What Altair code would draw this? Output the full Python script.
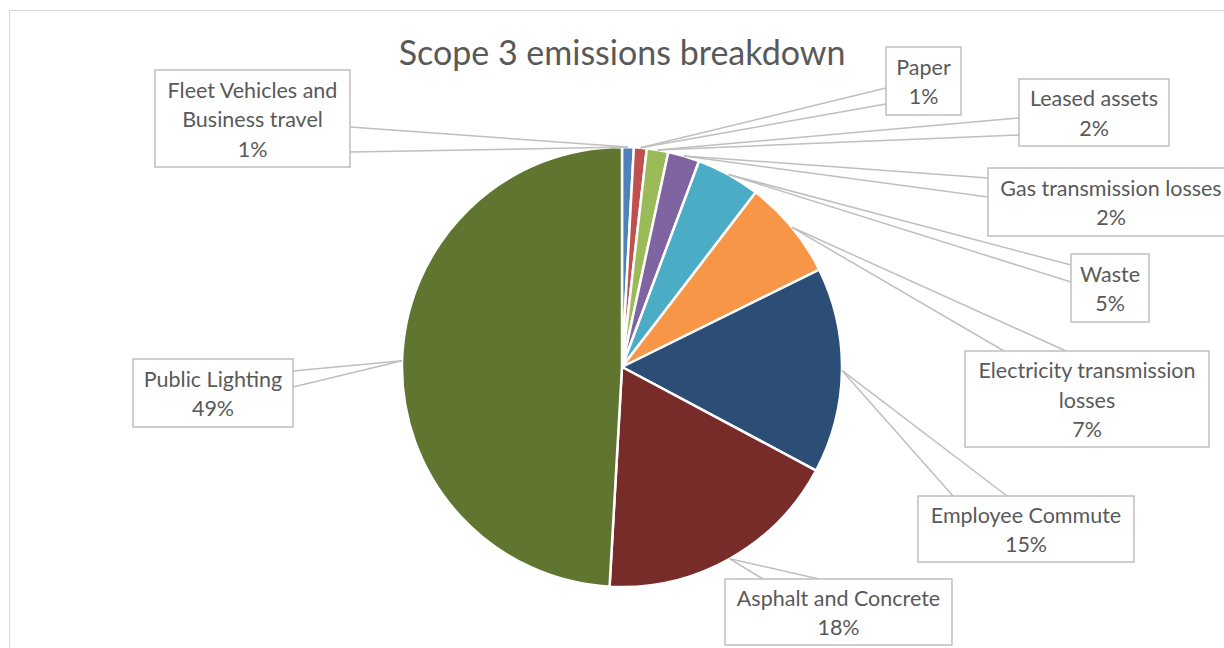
import altair as alt
import pandas as pd

# ---- data ----
categories = [
    "Fleet Vehicles and Business travel",
    "Paper",
    "Leased assets",
    "Gas transmission losses",
    "Waste",
    "Electricity transmission losses",
    "Employee Commute",
    "Asphalt and Concrete",
    "Public Lighting",
]
label_lines = [
    "Fleet Vehicles and\nBusiness travel",
    "Paper",
    "Leased assets",
    "Gas transmission losses",
    "Waste",
    "Electricity transmission\nlosses",
    "Employee Commute",
    "Asphalt and Concrete",
    "Public Lighting",
]
shares = [0.86, 0.94, 1.58, 2.32, 4.70, 7.30, 15.10, 18.10, 49.10]
title_text = "Scope 3 emissions breakdown"

# ---- styles ----
colors = ["#4F81BD", "#C0504D", "#9BBB59", "#8064A2", "#4BACC6",
          "#F79646", "#2C4D75", "#772C2A", "#5F7530"]
TEXT_COLOR = "#595959"
LINE_COLOR = "#BFBFBF"
FONT = "Lato"
LABEL_SIZE = 21.5
LINE_H = 29.5
TEXT_SHIFT = 2.5

# ---- layout (pixels) ----
CX, CY, R = 622, 367, 220
box_x1 = [155, 886, 1019, 988, 1071, 965, 918, 725, 133]
box_x2 = [350, 961, 1169, 1234, 1149, 1209, 1134, 952, 293]
box_y1 = [70, 47, 79, 168, 254, 351, 496, 579, 359]
box_y2 = [167, 115, 146, 236, 322, 447, 562, 645, 427]
call1_x = [350, 886, 1019, 988, 1071, 1004, 953, 763, 293]
call1_y = [127, 88, 118, 178, 265, 351, 496, 579, 371]
call2_x = [350, 886, 1019, 988, 1071, 1066, 1007, 819, 293]
call2_y = [152, 104, 135, 197, 282, 351, 496, 579, 387]

df = pd.DataFrame({
    "idx": list(range(len(categories))),
    "name": categories,
    "label": label_lines,
    "value": shares,
    "bx1": box_x1, "bx2": box_x2, "by1": box_y1, "by2": box_y2,
    "p1x": call1_x, "p1y": call1_y, "p2x": call2_x, "p2y": call2_y,
})

base = alt.Chart(df).transform_joinaggregate(
    total="sum(value)"
).transform_window(
    cum="sum(value)", sort=[alt.SortField("idx")], frame=[None, 0]
).transform_calculate(
    mid="(datum.cum - datum.value / 2) / datum.total * 2 * PI",
    ax=f"{CX} + {R} * sin(datum.mid)",
    ay=f"{CY} - {R} * cos(datum.mid)",
    pct="format(datum.value / datum.total * 100, '.0f') + '%'",
    txt="datum.label + '\\n' + datum.pct",
    tx="(datum.bx1 + datum.bx2) / 2",
).transform_calculate(
    ty=f"(datum.by1 + datum.by2) / 2 - (length(split(datum.txt, '\\n')) - 1) * {LINE_H} / 2 + {TEXT_SHIFT}",
)

frame = alt.Chart(pd.DataFrame({"a": [0]})).mark_rect(
    fillOpacity=0, stroke="#D9D9D9", strokeWidth=1
).encode(x=alt.value(9.5), x2=alt.value(1240), y=alt.value(10.5), y2=alt.value(660))

pie = alt.Chart(df).mark_arc(outerRadius=R, stroke="white", strokeWidth=2.5).encode(
    theta=alt.Theta("value:Q", stack=True),
    order=alt.Order("idx:Q"),
    color=alt.Color("name:N", scale=alt.Scale(domain=categories, range=colors), legend=None),
    x=alt.value(CX),
    y=alt.value(CY),
)

line1 = base.mark_rule(color=LINE_COLOR, strokeWidth=1.5).encode(
    x=alt.X("ax:Q", scale=None), y=alt.Y("ay:Q", scale=None), x2="p1x:Q", y2="p1y:Q"
)
line2 = base.mark_rule(color=LINE_COLOR, strokeWidth=1.5).encode(
    x=alt.X("ax:Q", scale=None), y=alt.Y("ay:Q", scale=None), x2="p2x:Q", y2="p2y:Q"
)

boxes = alt.Chart(df).mark_rect(fill="white", stroke=LINE_COLOR, strokeWidth=1.5).encode(
    x=alt.X("bx1:Q", scale=None), x2="bx2:Q", y=alt.Y("by1:Q", scale=None), y2="by2:Q"
)

texts = base.mark_text(
    font=FONT, fontSize=LABEL_SIZE, color=TEXT_COLOR, lineBreak="\n", lineHeight=LINE_H,
    baseline="middle", align="center"
).encode(x=alt.X("tx:Q", scale=None), y=alt.Y("ty:Q", scale=None), text="txt:N")

title = alt.Chart(pd.DataFrame({"t": [title_text]})).mark_text(
    font=FONT, fontSize=34, color=TEXT_COLOR, baseline="middle", align="center"
).encode(x=alt.value(622), y=alt.value(55), text="t:N")

chart = alt.layer(frame, pie, line1, line2, boxes, texts, title).properties(
    width=1224, height=648,
    autosize=alt.AutoSizeParams(type="none"),
    padding=0,
    background="white",
).configure_view(strokeWidth=0)

chart.save("out.html", embed_options={"renderer": "svg", "actions": False})
